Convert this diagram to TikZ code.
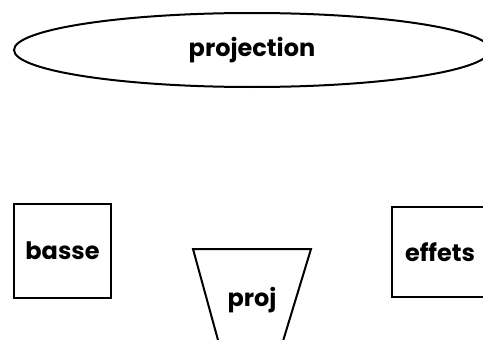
\documentclass[tikz,border=0pt]{standalone}
\usepackage{fontspec}
\setmainfont{Poppins}
\usetikzlibrary{shapes.geometric}
\begin{document}
\begin{tikzpicture}[x=1pt,y=1pt,
  shapeline/.style={draw=black,line width=2pt,inner sep=0pt},
  label/.style={font=\fontsize{24}{28}\selectfont\bfseries,inner sep=0pt},
  boxnode/.style={shapeline,label,rectangle},
  ovalnode/.style={shapeline,label,ellipse}]
\useasboundingbox (0,0) rectangle (483,-340);
\clip (0,0) rectangle (483,-340);
\node[ovalnode,minimum width=476,minimum height=74] (projection) at (252,-50) {projection};
\node[boxnode,minimum width=97,minimum height=94] (basse) at (62.5,-251) {basse};
\node[boxnode,minimum width=96,minimum height=90] (effets) at (440,-252) {effets};
\node[label] (proj) at (252,-300) {proj};
\draw[line width=2pt,line join=miter] (193,-249) -- (311,-249) -- (280,-351) -- (221,-351) -- cycle;
\end{tikzpicture}
\end{document}
